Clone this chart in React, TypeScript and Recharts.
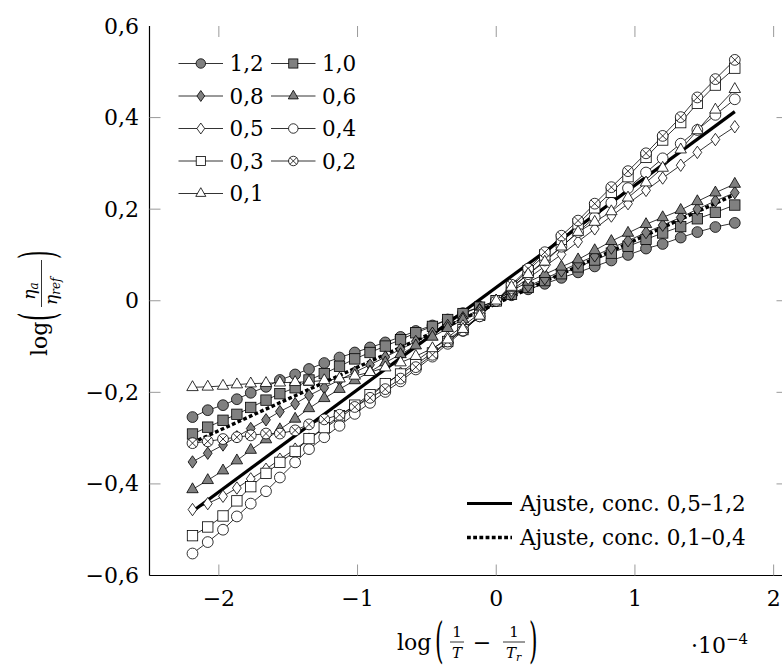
import React from 'react';
import { LineChart, Line, XAxis, YAxis } from 'recharts';

// x = log(1/T - 1/Tr), in units of 1e-4
const X_VALUES = [
  -2.19, -2.08, -1.97, -1.87, -1.77, -1.66, -1.56, -1.45, -1.35, -1.24, -1.13, -1.02,
  -0.91, -0.8, -0.69, -0.58, -0.46, -0.35, -0.24, -0.12, 0, 0.11, 0.23, 0.35, 0.47,
  0.59, 0.71, 0.83, 0.95, 1.08, 1.2, 1.33, 1.45, 1.58, 1.72,
];

const C12 = [
  -0.254, -0.239, -0.228, -0.215, -0.201, -0.188, -0.173, -0.161, -0.149, -0.136, -0.124, -0.113,
  -0.102, -0.091, -0.079, -0.066, -0.054, -0.041, -0.027, -0.013, 0, 0.012, 0.025, 0.037, 0.05,
  0.062, 0.075, 0.088, 0.1, 0.114, 0.124, 0.138, 0.15, 0.161, 0.17,
];
const C10 = [
  -0.291, -0.276, -0.261, -0.248, -0.233, -0.217, -0.203, -0.19, -0.173, -0.159, -0.143, -0.127,
  -0.113, -0.099, -0.085, -0.07, -0.056, -0.041, -0.028, -0.014, 0, 0.014, 0.029, 0.044, 0.059,
  0.074, 0.089, 0.104, 0.119, 0.134, 0.148, 0.162, 0.179, 0.193, 0.209,
];
const C08 = [
  -0.352, -0.333, -0.315, -0.297, -0.279, -0.26, -0.242, -0.225, -0.207, -0.19, -0.173, -0.156,
  -0.14, -0.123, -0.106, -0.089, -0.071, -0.054, -0.037, -0.019, 0, 0.015, 0.032, 0.048, 0.065,
  0.082, 0.098, 0.115, 0.131, 0.149, 0.165, 0.182, 0.2, 0.218, 0.236,
];
const C06 = [
  -0.412, -0.392, -0.371, -0.349, -0.326, -0.303, -0.281, -0.258, -0.235, -0.213, -0.193, -0.174,
  -0.155, -0.135, -0.117, -0.098, -0.079, -0.06, -0.041, -0.021, 0, 0.022, 0.041, 0.058, 0.074,
  0.09, 0.11, 0.13, 0.148, 0.167, 0.182, 0.198, 0.217, 0.236, 0.255,
];
const C05 = [
  -0.456, -0.443, -0.427, -0.409, -0.389, -0.368, -0.346, -0.324, -0.302, -0.279, -0.256, -0.232,
  -0.208, -0.183, -0.158, -0.132, -0.106, -0.08, -0.055, -0.028, 0, 0.023, 0.049, 0.075, 0.101,
  0.129, 0.157, 0.185, 0.212, 0.241, 0.268, 0.296, 0.324, 0.352, 0.38,
];
const C04 = [
  -0.552, -0.527, -0.5, -0.471, -0.443, -0.416, -0.386, -0.353, -0.324, -0.298, -0.273, -0.247,
  -0.223, -0.199, -0.176, -0.15, -0.122, -0.094, -0.066, -0.034, 0, 0.028, 0.058, 0.088, 0.118,
  0.15, 0.182, 0.214, 0.246, 0.28, 0.311, 0.343, 0.373, 0.406, 0.44,
];
const C03 = [
  -0.513, -0.494, -0.47, -0.437, -0.406, -0.377, -0.353, -0.329, -0.301, -0.277, -0.251, -0.228,
  -0.205, -0.181, -0.16, -0.139, -0.114, -0.089, -0.063, -0.032, 0, 0.032, 0.066, 0.1, 0.134,
  0.168, 0.203, 0.237, 0.271, 0.313, 0.351, 0.389, 0.431, 0.471, 0.508,
];
const C02 = [
  -0.311, -0.307, -0.302, -0.298, -0.294, -0.29, -0.29, -0.283, -0.27, -0.259, -0.249, -0.232,
  -0.212, -0.193, -0.17, -0.145, -0.118, -0.089, -0.065, -0.034, 0, 0.035, 0.07, 0.106, 0.142,
  0.175, 0.212, 0.248, 0.283, 0.322, 0.36, 0.401, 0.444, 0.484, 0.526,
];
const C01 = [
  -0.189, -0.188, -0.186, -0.183, -0.181, -0.18, -0.179, -0.178, -0.177, -0.174, -0.17, -0.164,
  -0.156, -0.146, -0.135, -0.121, -0.104, -0.085, -0.062, -0.033, 0, 0.03, 0.058, 0.085, 0.118,
  0.15, 0.172, 0.195, 0.225, 0.258, 0.29, 0.33, 0.372, 0.417, 0.462,
];

// linear fits (end points)
const FIT_X = [-2.19, 1.72];
const FIT_HIGH = [-0.46, 0.413]; // conc. 0,5-1,2
const FIT_LOW = [-0.31, 0.232]; // conc. 0,1-0,4

const X_TICKS = [-2, -1, 0, 1, 2];
const Y_TICKS = [-0.6, -0.4, -0.2, 0, 0.2, 0.4, 0.6];

const SERIES = [
  { label: '1,2', kind: 'circleGray', values: C12 },
  { label: '1,0', kind: 'squareGray', values: C10 },
  { label: '0,8', kind: 'diamondGray', values: C08 },
  { label: '0,6', kind: 'triangleGray', values: C06 },
  { label: '0,5', kind: 'diamondWhite', values: C05 },
  { label: '0,4', kind: 'circleWhite', values: C04 },
  { label: '0,3', kind: 'squareWhite', values: C03 },
  { label: '0,2', kind: 'otimes', values: C02 },
  { label: '0,1', kind: 'triangleWhite', values: C01 },
];

const GRAY = '#808080';
const TICK_GRAY = '#9a9a9a';
const FONT = '"DejaVu Serif", serif';
const DOTTED = '3.8 2.4';

const CHART_W = 800;
const CHART_H = 668;
const MARGIN = { top: 26, right: 12.5, left: 69.5, bottom: 52.5 };
const YAXIS_W = 80;
const XAXIS_H = 40;
const PLOT_LEFT = MARGIN.left + YAXIS_W;
const PLOT_RIGHT = CHART_W - MARGIN.right;
const PLOT_TOP = MARGIN.top;
const PLOT_BOTTOM = CHART_H - MARGIN.bottom - XAXIS_H;
const TICK_LEN = 11;

const toPoints = (ys: number[], xs: number[]) => ys.map((y, i) => ({ x: xs[i], y }));

const minus = (s: string) => s.replace('-', '\u2212');

const Mark = ({ kind, cx, cy, s = 1 }: { kind: string; cx: number; cy: number; s?: number }) => {
  const st = { stroke: '#000', strokeWidth: 0.8 };
  const fill = kind.endsWith('Gray') ? GRAY : '#fff';
  if (cx == null || cy == null) return null;
  switch (kind) {
    case 'circleGray':
    case 'circleWhite':
      return <circle cx={cx} cy={cy} r={5.4 * s} fill={fill} {...st} />;
    case 'squareGray':
    case 'squareWhite':
      return <rect x={cx - 5.2 * s} y={cy - 5.2 * s} width={10.4 * s} height={10.4 * s} fill={fill} {...st} />;
    case 'diamondGray':
    case 'diamondWhite': {
      const w = 4.4 * s;
      const h = 6.2 * s;
      return <polygon points={`${cx},${cy - h} ${cx + w},${cy} ${cx},${cy + h} ${cx - w},${cy}`} fill={fill} {...st} />;
    }
    case 'triangleGray':
    case 'triangleWhite': {
      const r = 6.6 * s;
      return (
        <polygon
          points={`${cx},${cy - r} ${cx + 0.866 * r},${cy + 0.5 * r} ${cx - 0.866 * r},${cy + 0.5 * r}`}
          fill={fill}
          {...st}
        />
      );
    }
    case 'otimes': {
      const r = 5.4 * s;
      const d = r * 0.707;
      return (
        <g>
          <circle cx={cx} cy={cy} r={r} fill="#fff" {...st} />
          <line x1={cx - d} y1={cy - d} x2={cx + d} y2={cy + d} {...st} />
          <line x1={cx - d} y1={cy + d} x2={cx + d} y2={cy - d} {...st} />
        </g>
      );
    }
    default:
      return null;
  }
};

const XTick = (props: any) => {
  const { x, payload } = props;
  const v = payload.value;
  const inner = v > -2.5 && v < 2.1;
  return (
    <g>
      {inner && (
        <>
          <line x1={x} x2={x} y1={PLOT_BOTTOM} y2={PLOT_BOTTOM - TICK_LEN} stroke={TICK_GRAY} strokeWidth={1} />
          <line x1={x} x2={x} y1={PLOT_TOP} y2={PLOT_TOP + TICK_LEN} stroke={TICK_GRAY} strokeWidth={1} />
        </>
      )}
      <text x={x} y={PLOT_BOTTOM + 23} textAnchor="middle" dominantBaseline="central" fontFamily={FONT} fontSize={22} fill="#000">
        {minus(String(v))}
      </text>
    </g>
  );
};

const YTick = (props: any) => {
  const { y, payload } = props;
  const v = payload.value;
  const inner = v > -0.6 && v < 0.6;
  const label = v === 0 ? '0' : minus(v.toFixed(1).replace('.', ','));
  return (
    <g>
      {inner && (
        <>
          <line x1={PLOT_LEFT} x2={PLOT_LEFT + TICK_LEN} y1={y} y2={y} stroke={TICK_GRAY} strokeWidth={1} />
          <line x1={PLOT_RIGHT} x2={PLOT_RIGHT - TICK_LEN} y1={y} y2={y} stroke={TICK_GRAY} strokeWidth={1} />
        </>
      )}
      <text x={PLOT_LEFT - 10.5} y={y} textAnchor="end" dominantBaseline="central" fontFamily={FONT} fontSize={22} fill="#000">
        {label}
      </text>
    </g>
  );
};

const Labels = () => (
  <svg
    width={782}
    height={668}
    style={{ position: 'absolute', left: 0, top: 0, pointerEvents: 'none', fontFamily: FONT }}
  >
    {/* marker legend */}
    {SERIES.map((s, i) => {
      const col = i % 2;
      const row = Math.floor(i / 2);
      const x0 = col === 0 ? 178.5 : 271;
      const y = 63.5 + row * 32.5;
      return (
        <g key={s.label}>
          <line x1={x0} x2={x0 + 44.5} y1={y} y2={y} stroke="#000" strokeWidth={0.8} />
          <Mark kind={s.kind} cx={x0 + 22.3} cy={y} s={0.88} />
          <text x={x0 + 51} y={y} dominantBaseline="central" fontSize={21.5} fill="#000">
            {s.label}
          </text>
        </g>
      );
    })}

    {/* fit legend */}
    <line x1={467} x2={512} y1={503.5} y2={503.5} stroke="#000" strokeWidth={3.2} />
    <text x={520} y={503.5} dominantBaseline="central" fontSize={21.5} fill="#000">
      Ajuste, conc. 0,5–1,2
    </text>
    <line x1={467} x2={512} y1={537.5} y2={537.5} stroke="#000" strokeWidth={3.4} strokeDasharray={DOTTED} />
    <text x={520} y={537.5} dominantBaseline="central" fontSize={21.5} fill="#000">
      Ajuste, conc. 0,1–0,4
    </text>

    {/* x axis title */}
    <g fill="#000">
      <text x={397} y={650} fontSize={22}>log</text>
      <text transform="translate(435,643) scale(1,2.2)" y={6.2} fontSize={22}>(</text>
      <text x={457} y={637} fontSize={15} textAnchor="middle">1</text>
      <line x1={450} x2={464} y1={642} y2={642} stroke="#000" strokeWidth={0.8} />
      <text x={457} y={658} fontSize={15} textAnchor="middle" fontStyle="italic">T</text>
      <text x={482} y={650} fontSize={22} textAnchor="middle">−</text>
      <text x={514} y={637} fontSize={15} textAnchor="middle">1</text>
      <line x1={503} x2={525} y1={642} y2={642} stroke="#000" strokeWidth={0.8} />
      <text x={511} y={658} fontSize={15} textAnchor="middle" fontStyle="italic">T</text>
      <text x={516} y={661} fontSize={11} fontStyle="italic">r</text>
      <text transform="translate(529,643) scale(1,2.2)" y={6.2} fontSize={22}>)</text>
    </g>
    <text x={691} y={653} fontSize={22} fill="#000">
      ·10<tspan dy={-9} fontSize={15}>−4</tspan>
    </text>

    {/* y axis title */}
    <g transform="translate(41.5,301) rotate(-90)" fill="#000">
      <text x={-55} y={5.5} fontSize={22}>log</text>
      <text transform="translate(-20,-1) scale(1,2.2)" y={6.2} fontSize={22}>(</text>
      <text x={10} y={-7} fontSize={17} textAnchor="middle" fontStyle="italic">
        η<tspan fontSize={12} dy={3}>a</tspan>
      </text>
      <line x1={-6} x2={41} y1={0} y2={0} stroke="#000" strokeWidth={0.8} />
      <text x={-4} y={15} fontSize={17} fontStyle="italic">
        η<tspan fontSize={12} dy={3}>ref</tspan>
      </text>
      <text transform="translate(42,-1) scale(1,2.2)" y={6.2} fontSize={22}>)</text>
    </g>
  </svg>
);

export default function App() {
  const fitHigh = toPoints(FIT_HIGH, FIT_X);
  const fitLow = toPoints(FIT_LOW, FIT_X);
  return (
    <div style={{ position: 'absolute', left: 0, top: 0, width: 782, height: 668, overflow: 'hidden', background: '#fff' }}>
      <LineChart width={CHART_W} height={CHART_H} margin={MARGIN}>
        <XAxis
          dataKey="x"
          type="number"
          domain={[-2.5, 2.1]}
          ticks={X_TICKS}
          interval={0}
          height={XAXIS_H}
          tick={<XTick />}
          tickLine={false}
          axisLine={{ stroke: '#000', strokeWidth: 1.2 }}
          allowDataOverflow
        />
        <XAxis
          xAxisId="top"
          orientation="top"
          dataKey="x"
          type="number"
          domain={[-2.5, 2.1]}
          height={0}
          tick={false}
          tickLine={false}
          axisLine={{ stroke: '#000', strokeWidth: 1.2 }}
        />
        <YAxis
          type="number"
          domain={[-0.6, 0.6]}
          ticks={Y_TICKS}
          interval={0}
          width={YAXIS_W}
          tick={<YTick />}
          tickLine={false}
          axisLine={{ stroke: '#000', strokeWidth: 1.2 }}
          allowDataOverflow
        />
        <YAxis
          yAxisId="right"
          orientation="right"
          type="number"
          domain={[-0.6, 0.6]}
          width={0}
          tick={false}
          tickLine={false}
          axisLine={{ stroke: '#000', strokeWidth: 1.2 }}
        />
        {SERIES.map((s) => (
          <Line
            key={s.label}
            data={toPoints(s.values, X_VALUES)}
            dataKey="y"
            type="linear"
            stroke="#000"
            strokeWidth={0.8}
            dot={(p: any) => <Mark key={`${s.kind}-${p.index}`} kind={s.kind} cx={p.cx} cy={p.cy} />}
            activeDot={false}
            isAnimationActive={false}
          />
        ))}
        <Line
          data={fitHigh}
          dataKey="y"
          type="linear"
          stroke="#000"
          strokeWidth={3.2}
          dot={false}
          activeDot={false}
          isAnimationActive={false}
        />
        <Line
          data={fitLow}
          dataKey="y"
          type="linear"
          stroke="#000"
          strokeWidth={3.4}
          strokeDasharray={DOTTED}
          dot={false}
          activeDot={false}
          isAnimationActive={false}
        />
      </LineChart>
      <Labels />
    </div>
  );
}
